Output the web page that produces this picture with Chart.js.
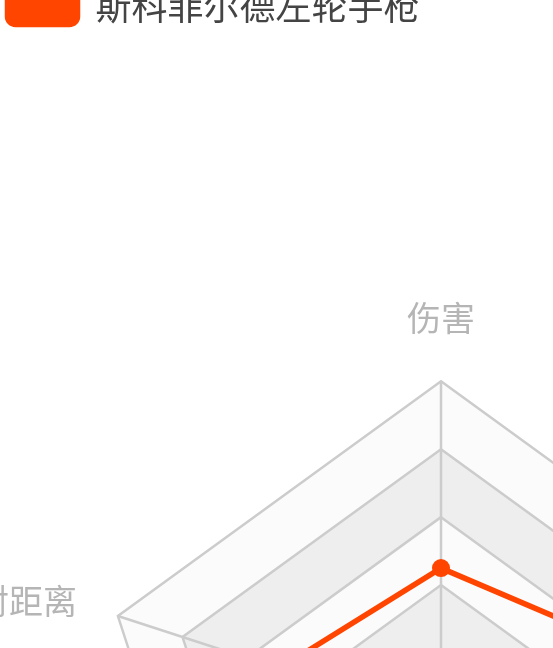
<!DOCTYPE html>
<html>
<head>
<meta charset="utf-8">
<script src="https://cdn.jsdelivr.net/npm/chart.js@4.4.1/dist/chart.umd.min.js"></script>
<style>
  html, body { margin: 0; padding: 0; overflow: hidden; background: #fff; }
  #wrap { position: absolute; left: -146px; top: -19.5px; width: 1068px; height: 1428px; }
</style>
</head>
<body>
<div id="wrap"><canvas id="myChart"></canvas></div>
<script>
const labels = ['伤害', '射速', '精准度', '装填速度', '有效射距离'];
const seriesName = '斯科菲尔德左轮手枪';
const dataValues = [45, 63, 55, 40, 50];
const maxValue = 100;
const stepValue = 20;
const legendShift = 146; // canvas starts left of the window, keep legend at the window edge

// alternating bands behind the grid lines
const bandPlugin = {
    id: 'bands',
    afterLayout(chart) {
        chart.legend.left += legendShift;
        chart.legend.right += legendShift;
    },
    beforeDraw(chart) {
        const scale = chart.scales.r;
        const c = chart.ctx;
        const n = labels.length;
        let k = 0;
        for (let v = maxValue; v > 0; v -= stepValue) {
            c.beginPath();
            for (let i = 0; i < n; i++) {
                const p = scale.getPointPositionForValue(i, v);
                if (i === 0) c.moveTo(p.x, p.y); else c.lineTo(p.x, p.y);
            }
            c.closePath();
            c.fillStyle = k % 2 === 0 ? '#fbfbfb' : '#eeeeee';
            c.fill();
            k++;
        }
    }
};

const ctx = document.getElementById('myChart').getContext('2d');
const myChart = new Chart(ctx, {
    type: 'radar',
    data: {
        labels: labels,
        datasets: [{
            label: seriesName,
            data: dataValues,
            borderColor: '#ff4500',
            backgroundColor: '#ff4500',
            borderWidth: 5.5,
            pointRadius: 9,
            pointBackgroundColor: '#ff4500',
            pointBorderWidth: 0,
            fill: false
        }]
    },
    options: {
        responsive: true,
        maintainAspectRatio: false,
        animation: false,
        layout: { padding: 0 },
        plugins: {
            legend: {
                position: 'top',
                align: 'start',
                labels: {
                    boxWidth: 70,
                    boxHeight: 36,
                    useBorderRadius: true,
                    borderRadius: 8,
                    padding: 7.5,
                    color: '#444',
                    font: { size: 36, family: "'Noto Sans CJK SC', sans-serif" }
                }
            },
            tooltip: { enabled: false }
        },
        scales: {
            r: {
                min: 0,
                max: maxValue,
                ticks: { display: false, stepSize: stepValue },
                grid: { color: '#cccccc', lineWidth: 2.5 },
                angleLines: { color: '#cccccc', lineWidth: 2.5 },
                pointLabels: {
                    color: '#b5b5b5',
                    padding: 43,
                    font: c => ({
                        size: 34,
                        family: "'Noto Sans CJK SC', sans-serif",
                        lineHeight: c.index === 0 ? 1.2 : 0.1
                    })
                }
            }
        }
    },
    plugins: [bandPlugin]
});
</script>
</body>
</html>
